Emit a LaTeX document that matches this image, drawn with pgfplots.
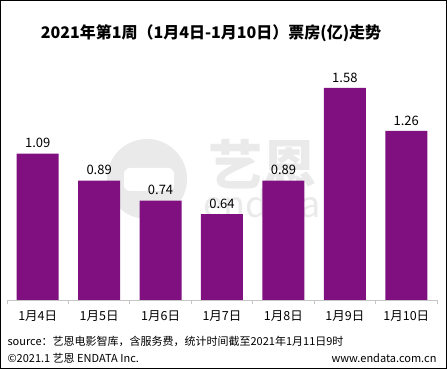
\documentclass[border=0pt]{standalone}
\usepackage{pgfplots}
\pgfplotsset{compat=1.18}
\usepackage{fontspec}
\setmainfont{Noto Sans CJK SC}
\definecolor{barc}{RGB}{128,16,128}
\definecolor{wm}{RGB}{234,234,234}
\begin{document}
\begin{tikzpicture}[x=1pt,y=1pt]
\path[use as bounding box] (0,0) rectangle (447,369);
\draw[line width=1.2pt] (0.8,0.8) rectangle (446.2,368.2);
% watermark
\fill[wm] (147,190) circle (40);
\fill[white,rounded corners=6pt] (124,178) rectangle (174,201);
\node[text=wm,font=\bfseries\fontsize{54}{56}\selectfont] at (262,204) {艺恩};
\node[text=wm,font=\fontsize{36}{38}\selectfont] at (262,166) {endata};
\node[font=\bfseries\fontsize{16}{18}\selectfont] at (211,336) {2021年第1周（1月4日-1月10日）票房(亿)走势};
\begin{axis}[at={(7pt,69pt)}, anchor=origin, scale only axis,
  width=430pt, height=240pt,
  xmin=0, xmax=7, ymin=0, ymax=1.788,
  axis x line=bottom, axis y line=none,
  axis line style={-, draw=gray!45, line width=0.8pt},
  ybar, bar width=42pt,
  xtick={0.5,1.5,...,6.5},
  xticklabels={1月4日,1月5日,1月6日,1月7日,1月8日,1月9日,1月10日},
  major tick length=0pt,
  minor xtick={0,1,...,7},
  minor tick length=4pt, tick align=outside,
  minor tick style={draw=gray!45, line width=0.8pt},
  xticklabel style={font=\fontsize{12.5}{14}\selectfont, yshift=-7pt},
  nodes near coords,
  /pgf/number format/.cd, fixed, fixed zerofill, precision=2, assume math mode=true,
  /pgfplots/.cd,
  every node near coord/.append style={font=\fontsize{13}{15}\selectfont, black, yshift=2pt},
]
\addplot[fill=barc, draw=none] coordinates {(0.5,1.09) (1.5,0.89) (2.5,0.74) (3.5,0.64) (4.5,0.89) (5.5,1.58) (6.5,1.26)};
\end{axis}
\node[anchor=west, font=\fontsize{11}{13}\selectfont] at (4,28) {source：艺恩电影智库，含服务费，统计时间截至2021年1月11日9时};
\node[anchor=west, font=\fontsize{11}{13}\selectfont] at (4,11) {©2021.1 艺恩 ENDATA Inc.};
\node[anchor=east, font=\fontsize{11}{13}\selectfont] at (440,11) {www.endata.com.cn};
\end{tikzpicture}
\end{document}
